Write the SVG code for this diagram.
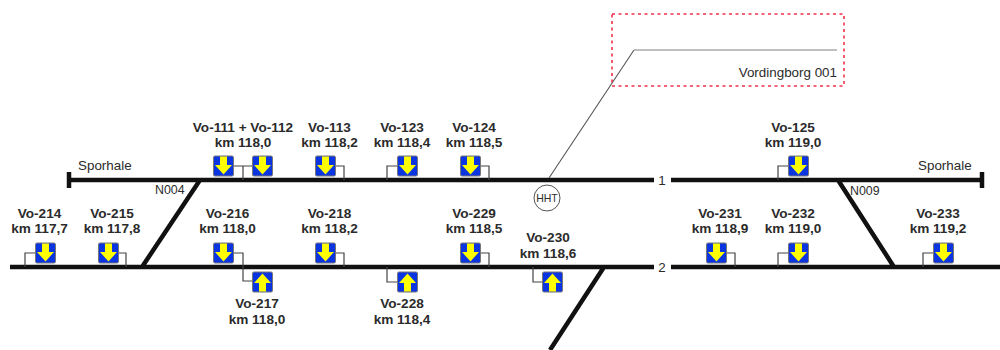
<svg xmlns="http://www.w3.org/2000/svg" width="1000" height="350" viewBox="0 0 1000 350">
<style>
text{font-family:"Liberation Sans",Arial,sans-serif;fill:#2b2b2b}
.b{font-size:13.6px;font-weight:bold;text-anchor:middle}
.r{font-size:13.4px}
.n{font-size:12.4px}
.m{text-anchor:middle}
.trk{stroke:#111;stroke-width:4.5;fill:none}
.stub{stroke:#444;stroke-width:1.2;fill:none}
.thin{stroke:#555;stroke-width:1.1;fill:none}
</style>
<defs>
<g id="sd"><rect x="0.5" y="0.5" width="20" height="20" rx="1.5" fill="#0a35e0" stroke="#777" stroke-width="1"/><polygon points="7,1 14,1 14,9.500 19,9.500 10.500,19 2,9.500 7,9.500" fill="#ffff00"/></g>
<g id="su"><rect x="0.5" y="0.5" width="20" height="20" rx="1.5" fill="#0a35e0" stroke="#777" stroke-width="1"/><polygon points="7,20 14,20 14,11.500 19,11.500 10.500,2 2,11.500 7,11.500" fill="#ffff00"/></g>
</defs>
<g id="connectors">
<path class="trk" d="M69 180H654M671 180H982M10 267H654M671 267H1000M200 180L142 267M838 180L894 267M604 267L550 350"/>
<path d="M69 172V188M982 172V188" stroke="#111" stroke-width="4.5" fill="none"/>
<path class="thin" d="M549 178L634 50"/>
<path d="M634 50H837" stroke="#aaa" stroke-width="1.5" fill="none"/>
<path class="stub" d="M233 166H252M243 166V180M335 166H344V180M387 180V166H397M480 166H489V180M778 180V166H788M35 253H25V267M118 253H126V267M233 253H243V281H252M335 253H344V267M480 253H489V267M387 267V282H397M533 267V282H542M726 253H735V267M778 267V253H788M923 267V253H933"/>
</g>
<g id="box-vordingborg"><rect x="612" y="14" width="232" height="72" fill="none" stroke="#f0314a" stroke-width="1.6" stroke-dasharray="3 3.5"/><text class="r" x="837" y="77" text-anchor="end">Vordingborg 001</text></g>
<g id="hht"><circle cx="547" cy="198" r="13" fill="#fff" stroke="#555" stroke-width="1"/><text x="547" y="202" font-size="10.500" class="m">HHT</text></g>
<g id="track-labels">
<text class="r" x="78" y="170">Sporhale</text>
<text class="r" x="918" y="170">Sporhale</text>
<text class="n" x="155" y="194">N004</text>
<text class="n" x="850" y="195">N009</text>
<text class="r m" x="662" y="185">1</text>
<text class="r m" x="662" y="272">2</text>
</g>
<g id="vo-111-112"><use href="#sd" x="213" y="155.500"/><use href="#sd" x="252" y="155.500"/><text class="b" x="243" y="132">Vo-111 + Vo-112</text><text class="b" x="243" y="147">km 118,0</text></g>
<g id="vo-113"><use href="#sd" x="315" y="155.500"/><text class="b" x="329.500" y="132">Vo-113</text><text class="b" x="329.500" y="147">km 118,2</text></g>
<g id="vo-123"><use href="#sd" x="397" y="155.500"/><text class="b" x="402" y="132">Vo-123</text><text class="b" x="402" y="147">km 118,4</text></g>
<g id="vo-124"><use href="#sd" x="460" y="155.500"/><text class="b" x="474" y="132">Vo-124</text><text class="b" x="474" y="147">km 118,5</text></g>
<g id="vo-125"><use href="#sd" x="788" y="155.500"/><text class="b" x="793" y="132">Vo-125</text><text class="b" x="793" y="147">km 119,0</text></g>
<g id="vo-214"><use href="#sd" x="35" y="242.500"/><text class="b" x="39.500" y="218">Vo-214</text><text class="b" x="39.500" y="233">km 117,7</text></g>
<g id="vo-215"><use href="#sd" x="98" y="242.500"/><text class="b" x="112" y="218">Vo-215</text><text class="b" x="112" y="233">km 117,8</text></g>
<g id="vo-216"><use href="#sd" x="213" y="242.500"/><text class="b" x="227.500" y="218">Vo-216</text><text class="b" x="227.500" y="233">km 118,0</text></g>
<g id="vo-218"><use href="#sd" x="315" y="242.500"/><text class="b" x="329.500" y="218">Vo-218</text><text class="b" x="329.500" y="233">km 118,2</text></g>
<g id="vo-229"><use href="#sd" x="460" y="242.500"/><text class="b" x="474" y="218">Vo-229</text><text class="b" x="474" y="233">km 118,5</text></g>
<g id="vo-231"><use href="#sd" x="706" y="242.500"/><text class="b" x="720" y="218">Vo-231</text><text class="b" x="720" y="233">km 118,9</text></g>
<g id="vo-232"><use href="#sd" x="788" y="242.500"/><text class="b" x="793" y="218">Vo-232</text><text class="b" x="793" y="233">km 119,0</text></g>
<g id="vo-233"><use href="#sd" x="933" y="242.500"/><text class="b" x="938" y="218">Vo-233</text><text class="b" x="938" y="233">km 119,2</text></g>
<g id="vo-217"><use href="#su" x="252" y="271.500"/><text class="b" x="257" y="308">Vo-217</text><text class="b" x="257" y="324">km 118,0</text></g>
<g id="vo-228"><use href="#su" x="397" y="271.500"/><text class="b" x="402" y="308">Vo-228</text><text class="b" x="402" y="324">km 118,4</text></g>
<g id="vo-230"><use href="#su" x="542" y="271.500"/><text class="b" x="548" y="242">Vo-230</text><text class="b" x="548" y="258">km 118,6</text></g>
</svg>
